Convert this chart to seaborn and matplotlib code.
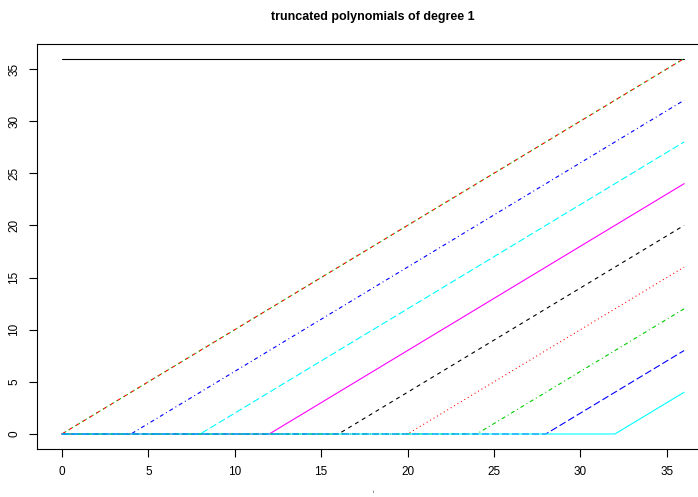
import matplotlib
matplotlib.use("Agg")
import matplotlib.pyplot as plt
import seaborn as sns
import pandas as pd

sns.set_style("white")
plt.rcParams['font.family'] = ['Liberation Sans', 'DejaVu Sans']
plt.rcParams['lines.scale_dashes'] = False
plt.rcParams['text.color'] = 'black'
plt.rcParams['xtick.color'] = 'black'
plt.rcParams['ytick.color'] = 'black'
plt.rcParams['axes.labelcolor'] = 'black'

# data
t_start = 0
t_end = 36
const_value = 36
knots = [0, 0, 4, 8, 12, 16, 20, 24, 28, 32]          # knot of each basis line (first is plain t)
end_values = [36, 36, 32, 28, 24, 20, 16, 12, 8, 4]    # value of each line at t = 36
xticks = [0, 5, 10, 15, 20, 25, 30, 35]
yticks = [0, 5, 10, 15, 20, 25, 30, 35]

# R matplot default style cycles
r_cols = ['black', 'red', '#00CD00', 'blue', 'cyan', 'magenta']
px = 0.72
r_ltys = ['-', (0, (4*px, 4*px)), (0, (1*px, 3*px)), (0, (1*px, 3*px, 4*px, 3*px)), (0, (7*px, 3*px))]

W, H = 698, 497
fig = plt.figure(figsize=(W/100, H/100), dpi=100)
left, right, top, bottom = 37, 709, 43.5, 449
ax = fig.add_axes([left/W, 1 - bottom/H, (right-left)/W, (bottom-top)/H])

lw = 0.8
# column 1: constant
df0 = pd.DataFrame({'t': [t_start, t_end], 'y': [const_value, const_value]})
sns.lineplot(data=df0, x='t', y='y', ax=ax, color=r_cols[0], linestyle=r_ltys[0], lw=lw)

for i, (k, ev) in enumerate(zip(knots, end_values)):
    j = i + 1
    if i == 0:
        df = pd.DataFrame({'t': [t_start, t_end], 'y': [0, ev]})
    else:
        df = pd.DataFrame({'t': [t_start, k, t_end], 'y': [0, 0, ev]})
    sns.lineplot(data=df, x='t', y='y', ax=ax, color=r_cols[j % 6],
                 linestyle=r_ltys[j % 5], lw=lw, sort=False)

ax.set_xlim(-1.44, 37.44)
ax.set_ylim(-1.44, 37.44)
ax.set_xticks(xticks)
ax.set_yticks(yticks)
ax.set_xticklabels([str(v) for v in xticks], fontsize=8.5, color='black')
ax.set_yticklabels([str(v) for v in yticks], fontsize=8.5, rotation=90, va='center', color='black')
ax.tick_params(axis='both', direction='out', length=6, width=0.8, color='black',
               bottom=True, left=True, pad=6)
for s in ax.spines.values():
    s.set_color('black')
    s.set_linewidth(0.8)
ax.set_xlabel('')
ax.set_ylabel('')

fig.text(373/W, 1 - 17/H, 'truncated polynomials of degree 1', ha='center', va='center',
         fontsize=9, fontweight='bold', color='black')
fig.text(373/W, 1 - 492/H, 't', ha='center', va='center', fontsize=2.5, color='black')

fig.savefig('out.png', dpi=100)
